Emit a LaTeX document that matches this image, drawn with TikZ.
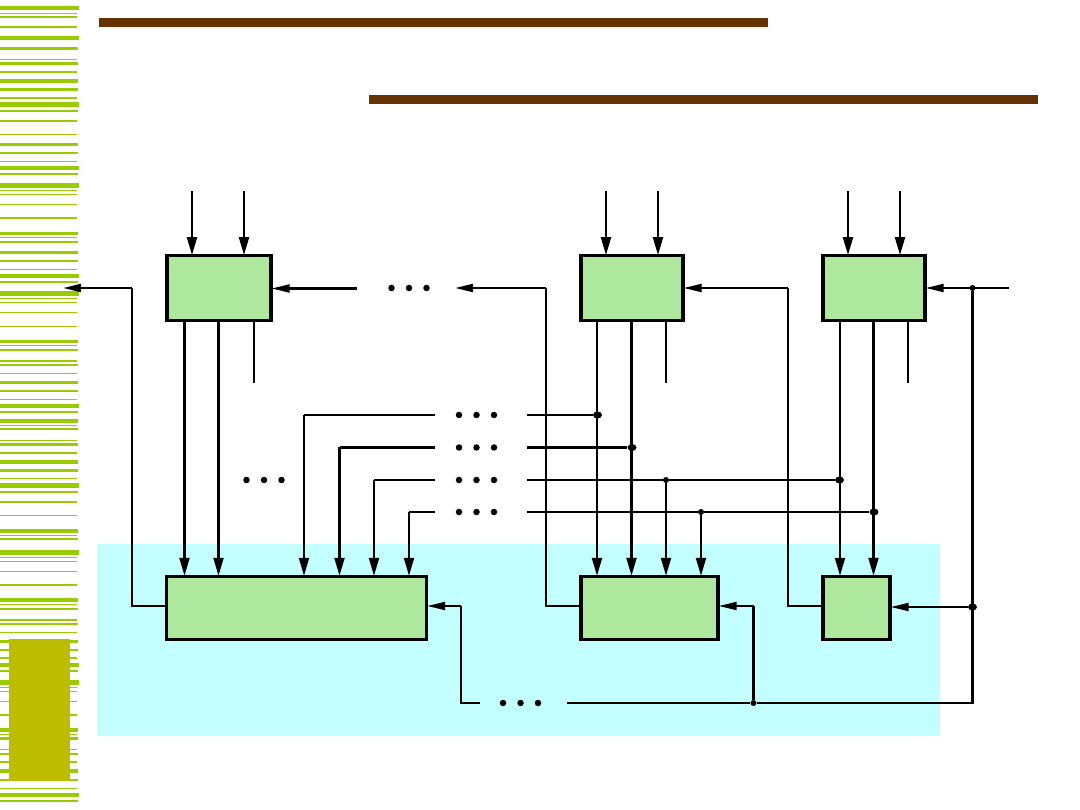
\documentclass[tikz,border=0pt]{standalone}
\usetikzlibrary{arrows.meta,shapes.geometric}
\definecolor{StripeGreen}{RGB}{153, 204, 0}
\definecolor{OliveBar}{RGB}{189, 189, 0}
\definecolor{BarBrown}{RGB}{102, 51, 0}
\definecolor{PaleCyan}{RGB}{196, 255, 255}
\definecolor{BoxGreen}{RGB}{173, 232, 158}

\begin{document}
\begin{tikzpicture}[x=1pt,y=-1pt]
\tikzstyle{block} = [rectangle, draw, line width=3.4pt, fill=BoxGreen, minimum height=64.5pt]
\tikzstyle{line} = [draw, line width=2.2pt, -]
\tikzstyle{arrowv} = [draw, line width=2.2pt, shorten >=-1pt, -{Stealth[length=18pt,width=10pt,inset=0pt]}]
\tikzstyle{arrowh} = [draw, line width=2.2pt, shorten >=-1pt, -{Stealth[length=18pt,width=8pt,inset=0pt]}]
\tikzstyle{bullet} = [circle, fill=black, inner sep=0pt, minimum size=6.5pt]
\tikzstyle{joint} = [circle, fill=black, inner sep=0pt, minimum size=6pt]
\tikzstyle{bigjoint} = [ellipse, fill=black, inner sep=0pt, minimum width=9pt, minimum height=7pt]
\useasboundingbox (0,0) rectangle (1080,810);
%
\foreach \ya/\yb/\xb in {6/10/79,13/14/77,16/18/77,26/28/77,36/40/79,47/50/78,59/60/77,62/65/78,71/73/77,79/83/78,88/91/78,97/99/77,102/107/79,110/112/78,120/122/77,134/135/77,143/146/78,152/154/78,161/162/77,166/170/79,173/175/78,183/188/79,190/191/77,194/195/77,204/205/77,217/219/77,232/235/78,237/238/77,241/243/78,251/254/78,260/262/78,269/270/77,274/278/79,281/283/78,291/296/79,298/299/77,302/303/77,312/313/77,326/327/77,340/343/78,345/346/77,349/351/78,360/362/77,364/366/78,373/374/77,381/384/78,390/392/78,399/400/77,404/408/79,411/413/78,419/423/78,425/426/77,428/430/78,440/441/77,443/446/78,452/454/77,460/464/78,469/472/78,478/479/77,483/488/79,491/493/78,501/503/77,515/516/77,529/533/78,535/536/77,538/540/78,550/555/79,557/558/77,561/562/77,571/572/77,584/586/77,598/602/78,604/605/77,608/610/78,619/621/77,623/625/78,632/633/77,640/643/78,649/651/78,657/659/77,663/667/79,670/672/78,680/685/79,687/688/77,691/692/77,701/702/77,714/716/77,728/732/78,734/735/77,737/740/78,749/750/77,753/755/78,761/763/77,769/773/78,779/781/78,788/789/77,793/797/79,800/802/78}
  \fill [StripeGreen] (0,\ya) rectangle (\xb,\yb);
\fill [OliveBar] (9,639) rectangle (70,781);
\fill [BarBrown] (99,18) rectangle (768,27);
\fill [BarBrown] (369,95) rectangle (1038,104);
\fill [PaleCyan] (97,544) rectangle (940,736);
%
\node [block, minimum width=104pt] (At) at (219,288) {};
\node [block, minimum width=102pt, right of=At, node distance=413pt] (Bt) {};
\node [block, minimum width=102pt, right of=Bt, node distance=242pt] (Ct) {};
\node [block, minimum width=260pt, minimum height=63pt] (Ab) at (296.5,608) {};
\node [block, minimum width=137pt, minimum height=63pt] (Bb) at (649.5,608) {};
\node [block, minimum width=67pt, minimum height=63pt] (Cb) at (856.5,608) {};
\coordinate (row) at (0,606);
%
\coordinate (inA1) at (192,191);
\coordinate [right of=inA1, node distance=52pt] (inA2);
\coordinate (inB1) at (606,191);
\coordinate [right of=inB1, node distance=52pt] (inB2);
\coordinate (inC1) at (848,191);
\coordinate [right of=inC1, node distance=52pt] (inC2);
\path [arrowv] (inA1) -- (inA1 |- At.north);
\path [arrowv] (inA2) -- (inA2 |- At.north);
\path [arrowv] (inB1) -- (inB1 |- Bt.north);
\path [arrowv] (inB2) -- (inB2 |- Bt.north);
\path [arrowv] (inC1) -- (inC1 |- Ct.north);
\path [arrowv] (inC2) -- (inC2 |- Ct.north);
%
\coordinate (outA1) at (184.5,383);
\coordinate [right of=outA1, node distance=34pt] (outA2);
\coordinate (outA3) at (254,383);
\coordinate (outB1) at (597,383);
\coordinate [right of=outB1, node distance=34.5pt] (outB2);
\coordinate (outB3) at (666,383);
\coordinate (outC1) at (840,383);
\coordinate [right of=outC1, node distance=33.5pt] (outC2);
\coordinate (outC3) at (908,383);
\path [arrowv] (outA1 |- At.south) -- (outA1 |- Ab.north);
\path [arrowv] (outA2 |- At.south) -- (outA2 |- Ab.north);
\path [line] (outA3 |- At.south) -- (outA3);
\path [arrowv] (outB1 |- Bt.south) -- (outB1 |- Bb.north);
\path [arrowv] (outB2 |- Bt.south) -- (outB2 |- Bb.north);
\path [line] (outB3 |- Bt.south) -- (outB3);
\path [arrowv] (outC1 |- Ct.south) -- (outC1 |- Cb.north);
\path [arrowv] (outC2 |- Ct.south) -- (outC2 |- Cb.north);
\path [line] (outC3 |- Ct.south) -- (outC3);
%
\coordinate (prevA) at (357,288.5);
\node [bullet] (d1) at (391.5,288) {};
\node [bullet, right of=d1, node distance=17.5pt] (d2) {};
\node [bullet, right of=d2, node distance=17.5pt] (d3) {};
\coordinate (nextA) at (456,288);
\coordinate (upB) at (546,288);
\coordinate (upC) at (788,288);
\coordinate (endC) at (1009,288);
\node [joint] (jC) at (972.5,288) {};
\coordinate (leftEnd) at (64,288);
\coordinate (leftUp) at (132,288);
\path [arrowh] (prevA) -- (prevA -| At.east);
\path [arrowh] (upB) -- (nextA);
\path [arrowh] (upC) -- (upC -| Bt.east);
\path [arrowh] (endC) -- (endC -| Ct.east);
\path [arrowh] (leftUp) -- (leftEnd);
\path [line] (row -| Ab.west) -- (row -| leftUp) -- (leftUp);
\path [line] (row -| Bb.west) -- (row -| upB) -- (upB);
\path [line] (row -| Cb.west) -- (row -| upC) -- (upC);
%
\node [bullet] (b11) at (459,415) {};
\node [bullet, right of=b11, node distance=17.5pt] (b12) {};
\node [bullet, right of=b12, node distance=17.5pt] (b13) {};
\node [bullet] (b21) at (459,447.5) {};
\node [bullet, right of=b21, node distance=17.5pt] (b22) {};
\node [bullet, right of=b22, node distance=17.5pt] (b23) {};
\node [bullet] (b31) at (459,480) {};
\node [bullet, right of=b31, node distance=17.5pt] (b32) {};
\node [bullet, right of=b32, node distance=17.5pt] (b33) {};
\node [bullet] (b41) at (459,512) {};
\node [bullet, right of=b41, node distance=17.5pt] (b42) {};
\node [bullet, right of=b42, node distance=17.5pt] (b43) {};
\node [bullet] (e1) at (246.5,480) {};
\node [bullet, right of=e1, node distance=17.5pt] (e2) {};
\node [bullet, right of=e2, node distance=17.5pt] (e3) {};
%
\coordinate [left of=b11, node distance=24pt] (busL1);
\coordinate [left of=b21, node distance=24pt] (busL2);
\coordinate [left of=b31, node distance=24pt] (busL3);
\coordinate [left of=b41, node distance=24pt] (busL4);
\coordinate [right of=b13, node distance=33pt] (busR1);
\coordinate [right of=b23, node distance=33pt] (busR2);
\coordinate [right of=b33, node distance=33pt] (busR3);
\coordinate [right of=b43, node distance=33pt] (busR4);
\coordinate (dropA1) at (304,415);
\coordinate (dropA2) at (339.5,447.5);
\coordinate (dropA3) at (374,480);
\coordinate (dropA4) at (409,512);
\path [line] (busL1) -- (dropA1);
\path [line] (busL2) -- (dropA2);
\path [line] (busL3) -- (dropA3);
\path [line] (busL4) -- (dropA4);
\path [arrowv] (dropA1) -- (dropA1 |- Ab.north);
\path [arrowv] (dropA2) -- (dropA2 |- Ab.north);
\path [arrowv] (dropA3) -- (dropA3 |- Ab.north);
\path [arrowv] (dropA4) -- (dropA4 |- Ab.north);
%
\node [bigjoint] (j1) at (597.5,415) {};
\node [bigjoint] (j2) at (632,447.5) {};
\node [joint] (j3) at (666,480) {};
\node [joint] (j4) at (701,512) {};
\node [bigjoint] (j5) at (839.5,480) {};
\node [bigjoint] (j6) at (874,512) {};
\path [line] (busR1) -- (j1);
\path [line] (busR2) -- (j2);
\path [line] (busR3) -- (j3) -- (j5);
\path [line] (busR4) -- (j4) -- (j6);
\path [arrowv] (j3) -- (j3 |- Bb.north);
\path [arrowv] (j4) -- (j4 |- Bb.north);
%
\node [bullet] (f1) at (503,703) {};
\node [bullet, right of=f1, node distance=17.5pt] (f2) {};
\node [bullet, right of=f2, node distance=17.5pt] (f3) {};
\coordinate [left of=f1, node distance=23pt] (feedL);
\coordinate [right of=f3, node distance=29pt] (feedR);
\coordinate (feedA) at (461,703);
\node [joint] (j7) at (753.5,703) {};
\coordinate (feedC) at (972.5,703);
\node [bigjoint] (j8) at (972.5,607) {};
\path [line] (feedL) -- (feedA) -- (row -| feedA);
\path [arrowh] (row -| feedA) -- (row -| Ab.east);
\path [line] (feedR) -- (j7) -- (feedC) -- (jC);
\path [line] (j7) -- (row -| j7);
\path [arrowh] (row -| j7) -- (row -| Bb.east);
\path [arrowh] (j8) -- (j8 -| Cb.east);

\end{tikzpicture}
\end{document}
